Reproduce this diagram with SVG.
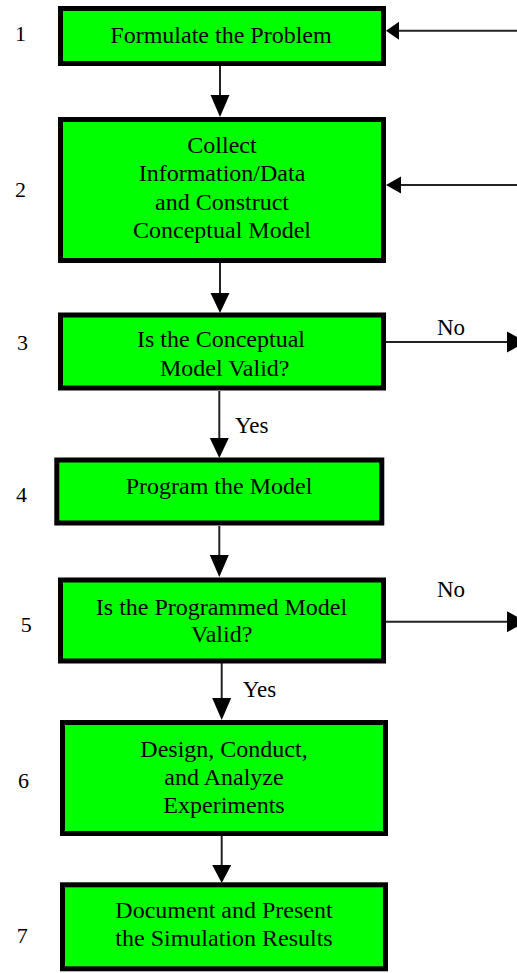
<svg xmlns="http://www.w3.org/2000/svg" width="517" height="973" viewBox="0 0 517 973">
<style>
.box{fill:#00ff00;stroke:#000;stroke-width:5}
text{font-family:'Liberation Serif',Tinos,'Times New Roman',Times,'DejaVu Serif',serif;fill:#000}
.t{font-size:24px;text-anchor:middle}
.n{font-size:22px}
.l{font-size:23px}
.c{stroke:#222;stroke-width:2;fill:none}
.h{fill:#000}
</style>
<rect width="517" height="973" fill="#fff"/>
<g id="numbers">
<text class="n" x="15" y="40.7">1</text>
<text class="n" x="15" y="196.7">2</text>
<text class="n" x="17" y="350">3</text>
<text class="n" x="16" y="501.7">4</text>
<text class="n" x="20.7" y="631.7">5</text>
<text class="n" x="18" y="788">6</text>
<text class="n" x="16.7" y="943">7</text>
</g>
<g id="connectors">
<line class="c" x1="220" y1="66" x2="220" y2="96"/>
<polygon class="h" points="210.5,95 229.5,95 220,117"/>
<line class="c" x1="220" y1="263" x2="220" y2="294"/>
<polygon class="h" points="210.5,293 229.5,293 220,313"/>
<line class="c" x1="219.3" y1="391" x2="219.3" y2="439"/>
<polygon class="h" points="209.8,438 228.8,438 219.3,458"/>
<line class="c" x1="219.3" y1="526" x2="219.3" y2="556"/>
<polygon class="h" points="209.8,555 228.8,555 219.3,577"/>
<line class="c" x1="221.7" y1="663" x2="221.7" y2="699"/>
<polygon class="h" points="212.2,698 231.2,698 221.7,720"/>
<line class="c" x1="221.7" y1="836" x2="221.7" y2="866"/>
<polygon class="h" points="212.2,865 231.2,865 221.7,883"/>
<line class="c" x1="517" y1="30.7" x2="398" y2="30.7"/>
<polygon class="h" points="399,21.7 399,39.7 386,30.7"/>
<line class="c" x1="517" y1="185" x2="400" y2="185"/>
<polygon class="h" points="401,176.5 401,193.5 386,185"/>
<line class="c" x1="386" y1="342" x2="508" y2="342"/>
<polygon class="h" points="507,331.5 507,352.5 526,342"/>
<line class="c" x1="386" y1="621.7" x2="508" y2="621.7"/>
<polygon class="h" points="507,611.2 507,632.2 526,621.7"/>
<text class="l" x="437" y="335">No</text>
<text class="l" x="437" y="596.7">No</text>
<text class="l" x="235" y="433">Yes</text>
<text class="l" x="242.7" y="696.7">Yes</text>
</g>
<g id="node1">
<rect class="box" x="60.5" y="8.5" width="323" height="55"/>
<text class="t" x="221" y="42.5">Formulate the Problem</text>
</g>
<g id="node2">
<rect class="box" x="60.5" y="119.5" width="323" height="141"/>
<text class="t" x="222" y="153.3">Collect</text>
<text class="t" x="222" y="181">Information/Data</text>
<text class="t" x="222" y="210">and Construct</text>
<text class="t" x="222" y="237.7">Conceptual Model</text>
</g>
<g id="node3">
<rect class="box" x="60.5" y="315" width="323" height="73"/>
<text class="t" x="221" y="346.7">Is the Conceptual</text>
<text class="t" x="224.7" y="376">Model Valid?</text>
</g>
<g id="node4">
<rect class="box" x="56.8" y="460" width="325" height="63"/>
<text class="t" x="219" y="494">Program the Model</text>
</g>
<g id="node5">
<rect class="box" x="60.5" y="580" width="323" height="81"/>
<text class="t" x="221.5" y="615">Is the Programmed Model</text>
<text class="t" x="221.7" y="641.7">Valid?</text>
</g>
<g id="node6">
<rect class="box" x="62.5" y="722.5" width="323" height="111"/>
<text class="t" x="224" y="757.3">Design, Conduct,</text>
<text class="t" x="224" y="785">and Analyze</text>
<text class="t" x="224" y="813.3">Experiments</text>
</g>
<g id="node7">
<rect class="box" x="62.5" y="884.8" width="323" height="84"/>
<text class="t" x="224" y="918">Document and Present</text>
<text class="t" x="224" y="945.7">the Simulation Results</text>
</g>
</svg>
